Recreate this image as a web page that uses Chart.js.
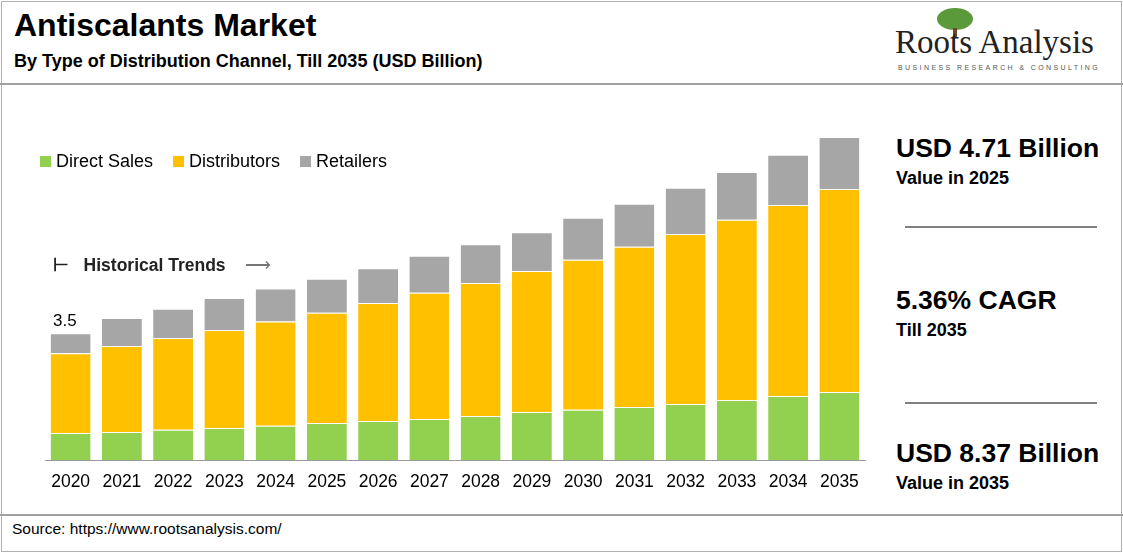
<!DOCTYPE html>
<html><head><meta charset="utf-8">
<script src="https://cdn.jsdelivr.net/npm/chart.js@4"></script>
<style>
body{margin:0;width:1123px;height:553px;position:relative;font-family:"Liberation Sans",Arial,sans-serif;background:#fff;overflow:hidden}
.a{position:absolute;white-space:nowrap}
#frame{position:absolute;left:1px;top:1px;width:1119px;height:549px;border:1px solid #b0b0b0}
#cw{position:absolute;left:0;top:0;width:880px;height:510px}
.sw{display:inline-block;width:11px;height:11px;margin-right:5px;vertical-align:0px}
</style></head><body>
<div id="frame"></div>
<div class="a" style="left:0;top:83px;width:1123px;border-top:2px solid #a0a0a0"></div>
<div class="a" style="left:0;top:514px;width:1123px;border-top:2px solid #a0a0a0"></div>
<div class="a" style="left:14px;top:7px;font-size:32px;font-weight:bold">Antiscalants Market</div>
<div class="a" style="left:14px;top:51px;font-size:18px;font-weight:bold">By Type of Distribution Channel, Till 2035 (USD Billion)</div>
<div class="a" style="left:937px;top:8px;width:36px;height:22px;border-radius:50%;background:#5a9a3a"></div>
<div class="a" style="left:953px;top:28px;width:4px;height:10px;background:#6b4a2a"></div>
<div class="a" style="left:895px;top:24px;font-family:'Liberation Serif',serif;font-size:33px;color:#222">Roots Analysis</div>
<div class="a" style="left:898px;top:64px;font-size:7px;letter-spacing:2.4px;color:#555">BUSINESS RESEARCH &amp; CONSULTING</div>
<div id="cw"><canvas id="c"></canvas></div>
<div class="a" style="left:40px;top:151px;font-size:18px">
<span class="sw" style="background:#92d050"></span>Direct Sales&nbsp;&nbsp;&nbsp;&nbsp;<span class="sw" style="background:#ffc000"></span>Distributors&nbsp;&nbsp;&nbsp;&nbsp;<span class="sw" style="background:#a6a6a6"></span>Retailers</div>
<div class="a" style="left:53px;top:311px;font-size:17px">3.5</div>
<div class="a" style="left:53px;top:255px;font-size:17.5px;font-weight:bold;color:#222">⊢&nbsp;&nbsp;&nbsp;Historical Trends&nbsp;&nbsp;&nbsp;&nbsp;<span style="font-weight:normal;color:#777">⟶</span></div>
<div class="a" style="left:896px;top:133px;font-size:26.5px;font-weight:bold">USD 4.71 Billion</div>
<div class="a" style="left:896px;top:168px;font-size:18px;font-weight:bold">Value in 2025</div>
<div class="a" style="left:905px;top:226px;width:192px;border-top:2px solid #808080"></div>
<div class="a" style="left:896px;top:285px;font-size:26.5px;font-weight:bold">5.36% CAGR</div>
<div class="a" style="left:896px;top:320px;font-size:18px;font-weight:bold">Till 2035</div>
<div class="a" style="left:905px;top:402px;width:192px;border-top:2px solid #808080"></div>
<div class="a" style="left:896px;top:438px;font-size:26.5px;font-weight:bold">USD 8.37 Billion</div>
<div class="a" style="left:896px;top:473px;font-size:18px;font-weight:bold">Value in 2035</div>
<div class="a" style="left:12px;top:520px;font-size:15.5px">Source: https://www.rootsanalysis.com/</div>
<script>
const categories=["2020","2021","2022","2023","2024","2025","2026","2027","2028","2029","2030","2031","2032","2033","2034","2035"];
const directSales=[0.74,0.77,0.83,0.88,0.94,1.02,1.07,1.13,1.21,1.32,1.38,1.46,1.54,1.65,1.76,1.87];
const distributors=[2.20,2.37,2.53,2.70,2.87,3.03,3.25,3.47,3.66,3.88,4.13,4.41,4.68,4.96,5.26,5.59];
const retailers=[0.55,0.77,0.80,0.88,0.91,0.94,0.96,1.02,1.07,1.07,1.16,1.18,1.27,1.32,1.38,1.43];
const ds=(l,d,c)=>({label:l,data:d,backgroundColor:c,borderColor:'#fff',borderWidth:{top:1},barPercentage:0.78,categoryPercentage:1});
new Chart(document.getElementById('c'),{type:'bar',
data:{labels:categories,datasets:[ds('Direct Sales',directSales,'#92d050'),ds('Distributors',distributors,'#ffc000'),ds('Retailers',retailers,'#a6a6a6')]},
options:{responsive:true,maintainAspectRatio:false,animation:false,
layout:{padding:{left:45,right:15,top:133,bottom:13}},
plugins:{tooltip:{enabled:false},legend:{display:false}},
scales:{x:{stacked:true,grid:{display:false},border:{color:'#999'},ticks:{color:'#000',font:{size:17.5,family:'Liberation Sans'},padding:4}},
y:{stacked:true,display:false,min:0,max:9}}}});
</script>
</body></html>
